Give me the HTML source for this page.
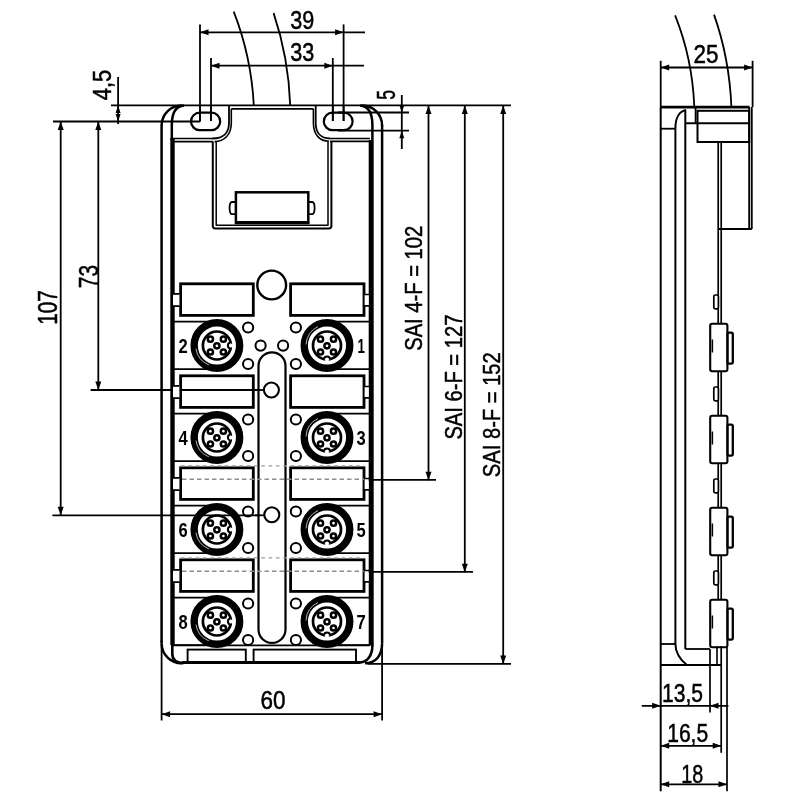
<!DOCTYPE html>
<html><head><meta charset="utf-8"><style>
html,body{margin:0;padding:0;background:#fff;}
svg{display:block;will-change:transform}
text{font-family:"Liberation Sans",sans-serif;fill:#000;}
</style></head><body>
<svg width="800" height="800" viewBox="0 0 800 800">
<rect width="800" height="800" fill="#fff"/>
<line x1="111.00" y1="105.40" x2="511.00" y2="105.40" stroke="#000" stroke-width="1.8" />
<line x1="53.00" y1="121.50" x2="200.00" y2="121.50" stroke="#000" stroke-width="1.8" />
<line x1="118.10" y1="77.00" x2="118.10" y2="124.00" stroke="#000" stroke-width="1.8" />
<polygon points="118.10,105.40 115.60,112.90 120.60,112.90" fill="#000"/>
<polygon points="118.10,121.50 115.60,114.00 120.60,114.00" fill="#000"/>
<line x1="60.70" y1="121.50" x2="60.70" y2="515.30" stroke="#000" stroke-width="1.8" />
<polygon points="60.70,121.50 57.70,130.00 63.70,130.00" fill="#000"/>
<polygon points="60.70,515.30 57.70,506.80 63.70,506.80" fill="#000"/>
<line x1="52.40" y1="515.30" x2="264.30" y2="515.30" stroke="#000" stroke-width="1.8" />
<line x1="98.30" y1="121.50" x2="98.30" y2="390.00" stroke="#000" stroke-width="1.8" />
<polygon points="98.30,121.50 95.30,130.00 101.30,130.00" fill="#000"/>
<polygon points="98.30,390.00 95.30,381.50 101.30,381.50" fill="#000"/>
<line x1="90.60" y1="390.00" x2="264.10" y2="390.00" stroke="#000" stroke-width="1.8" />
<line x1="200.00" y1="24.40" x2="200.00" y2="121.50" stroke="#000" stroke-width="1.8" />
<line x1="343.60" y1="24.40" x2="343.60" y2="121.00" stroke="#000" stroke-width="1.8" />
<line x1="200.00" y1="32.30" x2="365.00" y2="32.30" stroke="#000" stroke-width="1.8" />
<polygon points="200.00,32.30 208.50,29.30 208.50,35.30" fill="#000"/>
<polygon points="343.60,32.30 335.10,29.30 335.10,35.30" fill="#000"/>
<line x1="211.00" y1="58.00" x2="211.00" y2="121.00" stroke="#000" stroke-width="1.8" />
<line x1="332.80" y1="58.00" x2="332.80" y2="121.00" stroke="#000" stroke-width="1.8" />
<line x1="211.00" y1="65.70" x2="364.00" y2="65.70" stroke="#000" stroke-width="1.8" />
<polygon points="211.00,65.70 219.50,62.70 219.50,68.70" fill="#000"/>
<polygon points="332.80,65.70 324.30,62.70 324.30,68.70" fill="#000"/>
<line x1="338.00" y1="112.50" x2="409.00" y2="112.50" stroke="#000" stroke-width="1.8" />
<line x1="338.00" y1="130.70" x2="409.00" y2="130.70" stroke="#000" stroke-width="1.8" />
<line x1="401.80" y1="95.00" x2="401.80" y2="149.00" stroke="#000" stroke-width="1.8" />
<polygon points="401.80,112.50 399.30,105.00 404.30,105.00" fill="#000"/>
<polygon points="401.80,130.70 399.30,138.20 404.30,138.20" fill="#000"/>
<line x1="428.50" y1="105.40" x2="428.50" y2="480.30" stroke="#000" stroke-width="1.8" />
<polygon points="428.50,105.40 425.50,113.90 431.50,113.90" fill="#000"/>
<polygon points="428.50,480.30 425.50,471.80 431.50,471.80" fill="#000"/>
<line x1="366.00" y1="479.80" x2="436.00" y2="479.80" stroke="#000" stroke-width="1.8" />
<line x1="464.80" y1="105.40" x2="464.80" y2="572.20" stroke="#000" stroke-width="1.8" />
<polygon points="464.80,105.40 461.80,113.90 467.80,113.90" fill="#000"/>
<polygon points="464.80,572.20 461.80,563.70 467.80,563.70" fill="#000"/>
<line x1="366.00" y1="571.80" x2="473.00" y2="571.80" stroke="#000" stroke-width="1.8" />
<line x1="503.20" y1="105.40" x2="503.20" y2="664.00" stroke="#000" stroke-width="1.8" />
<polygon points="503.20,105.40 500.20,113.90 506.20,113.90" fill="#000"/>
<polygon points="503.20,664.00 500.20,655.50 506.20,655.50" fill="#000"/>
<line x1="367.50" y1="663.90" x2="511.00" y2="663.90" stroke="#000" stroke-width="1.8" />
<line x1="161.60" y1="640.00" x2="161.60" y2="720.50" stroke="#000" stroke-width="1.8" />
<line x1="382.10" y1="640.00" x2="382.10" y2="720.50" stroke="#000" stroke-width="1.8" />
<line x1="161.60" y1="714.20" x2="382.10" y2="714.20" stroke="#000" stroke-width="1.8" />
<polygon points="161.60,714.20 170.10,711.20 170.10,717.20" fill="#000"/>
<polygon points="382.10,714.20 373.60,711.20 373.60,717.20" fill="#000"/>
<path d="M233.7,11.7 C244,38 252,70 253.8,105.4" stroke="#000" stroke-width="1.8" fill="none" stroke-linejoin="round" />
<path d="M273.6,13.1 C282,38 289,70 290.2,105.4" stroke="#000" stroke-width="1.8" fill="none" stroke-linejoin="round" />
<path d="M161.6,125.5 A20,20 0 0 1 181.6,105.4" stroke="#000" stroke-width="2.5" fill="none" stroke-linejoin="round" />
<path d="M362.1,105.4 A20,20 0 0 1 382.1,125.5" stroke="#000" stroke-width="2.5" fill="none" stroke-linejoin="round" />
<line x1="161.60" y1="125.00" x2="161.60" y2="643.00" stroke="#000" stroke-width="2.5" />
<line x1="382.10" y1="125.00" x2="382.10" y2="643.00" stroke="#000" stroke-width="2.5" />
<path d="M161.6,643.5 A20,20 0 0 0 182,663.3" stroke="#000" stroke-width="2.5" fill="none" stroke-linejoin="round" />
<path d="M382.1,643.5 C382.1,655 376,663.3 365,663.3" stroke="#000" stroke-width="2.5" fill="none" stroke-linejoin="round" />
<path d="M171.8,140 L171.8,125 C171.8,113 175,106 184,105.4" stroke="#000" stroke-width="2.5" fill="none" stroke-linejoin="round" />
<path d="M372.4,140 L372.4,125 C372.4,113 369,106 360,105.4" stroke="#000" stroke-width="2.5" fill="none" stroke-linejoin="round" />
<line x1="172.50" y1="138.00" x2="172.50" y2="645.00" stroke="#000" stroke-width="4.4" />
<line x1="371.20" y1="140.00" x2="371.20" y2="645.50" stroke="#000" stroke-width="5.0" />
<path d="M172.3,645 L172.3,654 C172.3,660 176,663 184,663.0" stroke="#000" stroke-width="2.6" fill="none" stroke-linejoin="round" />
<path d="M372.4,645 C372.4,655 368,662.6 358.5,662.6" stroke="#000" stroke-width="2.6" fill="none" stroke-linejoin="round" />
<line x1="182.00" y1="662.60" x2="360.00" y2="662.60" stroke="#000" stroke-width="3.0" />
<line x1="173.00" y1="138.50" x2="213.00" y2="138.50" stroke="#000" stroke-width="1.7" />
<line x1="174.00" y1="141.60" x2="212.80" y2="141.60" stroke="#000" stroke-width="1.7" />
<path d="M229.0,105.4 L229.0,123 C229.0,133 223,138.5 212.5,138.5" stroke="#000" stroke-width="1.8" fill="none" stroke-linejoin="round" />
<path d="M231.3,108.8 L231.3,123 C231.3,135 224,141.6 214.5,141.6" stroke="#000" stroke-width="1.6" fill="none" stroke-linejoin="round" />
<path d="M315.7,105.4 L315.7,123 C315.7,133 321,138.5 330,138.5" stroke="#000" stroke-width="1.8" fill="none" stroke-linejoin="round" />
<path d="M313.4,108.8 L313.4,123 C313.4,135 320,141.3 329,141.3" stroke="#000" stroke-width="1.6" fill="none" stroke-linejoin="round" />
<line x1="330.00" y1="138.50" x2="370.00" y2="138.50" stroke="#000" stroke-width="1.7" />
<line x1="330.00" y1="141.40" x2="370.00" y2="141.40" stroke="#000" stroke-width="1.7" />
<line x1="231.30" y1="108.80" x2="313.40" y2="108.80" stroke="#000" stroke-width="1.7" />
<path d="M212.8,141.6 L212.8,225.8 C212.8,227.6 213.6,228.6 215.4,228.6 L328.8,228.6 C330.6,228.6 331.4,227.6 331.4,225.8 L331.4,141.4" stroke="#000" stroke-width="2.0" fill="none" stroke-linejoin="round" />
<path d="M216.2,141.6 L216.2,225.2 L328.0,225.2 L328.0,141.4" stroke="#000" stroke-width="1.5" fill="none" stroke-linejoin="round" />
<rect x="191.00" y="112.60" width="29.20" height="17.60" rx="8.8" stroke="#000" stroke-width="2.2" fill="none"/>
<rect x="323.80" y="112.60" width="28.80" height="17.60" rx="8.8" stroke="#000" stroke-width="2.2" fill="none"/>
<line x1="200.00" y1="105.40" x2="200.00" y2="121.50" stroke="#000" stroke-width="1.8" />
<line x1="211.00" y1="105.40" x2="211.00" y2="121.00" stroke="#000" stroke-width="1.8" />
<line x1="332.80" y1="105.40" x2="332.80" y2="121.00" stroke="#000" stroke-width="1.8" />
<line x1="343.60" y1="105.40" x2="343.60" y2="121.00" stroke="#000" stroke-width="1.8" />
<rect x="235.90" y="192.30" width="72.40" height="30.50" rx="0" stroke="#000" stroke-width="2.5" fill="none"/>
<line x1="235.00" y1="222.60" x2="309.20" y2="222.60" stroke="#000" stroke-width="3.2" />
<path d="M235,202 L232,202 C230,202 229.6,204 229.6,208 C229.6,212 230,214.2 232,214.2 L235,214.2" stroke="#000" stroke-width="1.8" fill="none" stroke-linejoin="round" />
<path d="M309,202 L312,202 C314,202 314.6,204 314.6,208 C314.6,212 314,214.2 312,214.2 L309,214.2" stroke="#000" stroke-width="1.8" fill="none" stroke-linejoin="round" />
<circle cx="271.70" cy="285.00" r="14.40" stroke="#000" stroke-width="2.4" fill="none"/>
<rect x="180.60" y="283.80" width="72.70" height="31.60" rx="0" stroke="#000" stroke-width="2.8" fill="none"/>
<rect x="290.60" y="283.80" width="73.40" height="31.60" rx="0" stroke="#000" stroke-width="2.8" fill="none"/>
<rect x="173.0" y="294.3" width="6.3" height="11.4" fill="#fff"/>
<path d="M172.5,293.8 L179.5,293.8 M172.5,306.2 L179.5,306.2" stroke="#000" stroke-width="1.7" fill="none" stroke-linejoin="round" />
<rect x="364.6" y="295.0" width="4.0" height="10.2" fill="#fff"/>
<path d="M364.5,294.5 L370,294.5 M364.5,305.8 L370,305.8" stroke="#000" stroke-width="1.7" fill="none" stroke-linejoin="round" />
<line x1="173.00" y1="321.70" x2="217.00" y2="321.70" stroke="#000" stroke-width="1.8" />
<line x1="173.00" y1="369.10" x2="217.00" y2="369.10" stroke="#000" stroke-width="1.8" />
<line x1="327.00" y1="321.70" x2="370.00" y2="321.70" stroke="#000" stroke-width="1.8" />
<line x1="327.00" y1="369.10" x2="370.00" y2="369.10" stroke="#000" stroke-width="1.8" />
<circle cx="248.10" cy="327.50" r="5.10" stroke="#000" stroke-width="2.0" fill="none"/>
<circle cx="248.10" cy="364.00" r="5.10" stroke="#000" stroke-width="2.0" fill="none"/>
<circle cx="295.90" cy="327.50" r="5.10" stroke="#000" stroke-width="2.0" fill="none"/>
<circle cx="295.90" cy="364.00" r="5.10" stroke="#000" stroke-width="2.0" fill="none"/>
<rect x="180.60" y="375.80" width="72.70" height="31.60" rx="0" stroke="#000" stroke-width="2.8" fill="none"/>
<rect x="290.60" y="375.80" width="73.40" height="31.60" rx="0" stroke="#000" stroke-width="2.8" fill="none"/>
<rect x="173.0" y="386.3" width="6.3" height="11.4" fill="#fff"/>
<path d="M172.5,385.8 L179.5,385.8 M172.5,398.2 L179.5,398.2" stroke="#000" stroke-width="1.7" fill="none" stroke-linejoin="round" />
<rect x="364.6" y="387.0" width="4.0" height="10.2" fill="#fff"/>
<path d="M364.5,386.5 L370,386.5 M364.5,397.8 L370,397.8" stroke="#000" stroke-width="1.7" fill="none" stroke-linejoin="round" />
<line x1="173.00" y1="413.70" x2="217.00" y2="413.70" stroke="#000" stroke-width="1.8" />
<line x1="173.00" y1="461.10" x2="217.00" y2="461.10" stroke="#000" stroke-width="1.8" />
<line x1="327.00" y1="413.70" x2="370.00" y2="413.70" stroke="#000" stroke-width="1.8" />
<line x1="327.00" y1="461.10" x2="370.00" y2="461.10" stroke="#000" stroke-width="1.8" />
<circle cx="248.10" cy="419.50" r="5.10" stroke="#000" stroke-width="2.0" fill="none"/>
<circle cx="248.10" cy="456.00" r="5.10" stroke="#000" stroke-width="2.0" fill="none"/>
<circle cx="295.90" cy="419.50" r="5.10" stroke="#000" stroke-width="2.0" fill="none"/>
<circle cx="295.90" cy="456.00" r="5.10" stroke="#000" stroke-width="2.0" fill="none"/>
<rect x="180.60" y="467.80" width="72.70" height="31.60" rx="0" stroke="#000" stroke-width="2.8" fill="none"/>
<rect x="290.60" y="467.80" width="73.40" height="31.60" rx="0" stroke="#000" stroke-width="2.8" fill="none"/>
<rect x="173.0" y="478.3" width="6.3" height="11.4" fill="#fff"/>
<path d="M172.5,477.8 L179.5,477.8 M172.5,490.2 L179.5,490.2" stroke="#000" stroke-width="1.7" fill="none" stroke-linejoin="round" />
<rect x="364.6" y="479.0" width="4.0" height="10.2" fill="#fff"/>
<path d="M364.5,478.5 L370,478.5 M364.5,489.8 L370,489.8" stroke="#000" stroke-width="1.7" fill="none" stroke-linejoin="round" />
<line x1="173.00" y1="505.70" x2="217.00" y2="505.70" stroke="#000" stroke-width="1.8" />
<line x1="173.00" y1="553.10" x2="217.00" y2="553.10" stroke="#000" stroke-width="1.8" />
<line x1="327.00" y1="505.70" x2="370.00" y2="505.70" stroke="#000" stroke-width="1.8" />
<line x1="327.00" y1="553.10" x2="370.00" y2="553.10" stroke="#000" stroke-width="1.8" />
<circle cx="248.10" cy="511.50" r="5.10" stroke="#000" stroke-width="2.0" fill="none"/>
<circle cx="248.10" cy="548.00" r="5.10" stroke="#000" stroke-width="2.0" fill="none"/>
<circle cx="295.90" cy="511.50" r="5.10" stroke="#000" stroke-width="2.0" fill="none"/>
<circle cx="295.90" cy="548.00" r="5.10" stroke="#000" stroke-width="2.0" fill="none"/>
<rect x="180.60" y="559.80" width="72.70" height="31.60" rx="0" stroke="#000" stroke-width="2.8" fill="none"/>
<rect x="290.60" y="559.80" width="73.40" height="31.60" rx="0" stroke="#000" stroke-width="2.8" fill="none"/>
<rect x="173.0" y="570.3" width="6.3" height="11.4" fill="#fff"/>
<path d="M172.5,569.8 L179.5,569.8 M172.5,582.2 L179.5,582.2" stroke="#000" stroke-width="1.7" fill="none" stroke-linejoin="round" />
<rect x="364.6" y="571.0" width="4.0" height="10.2" fill="#fff"/>
<path d="M364.5,570.5 L370,570.5 M364.5,581.8 L370,581.8" stroke="#000" stroke-width="1.7" fill="none" stroke-linejoin="round" />
<line x1="173.00" y1="597.70" x2="217.00" y2="597.70" stroke="#000" stroke-width="1.8" />
<line x1="173.00" y1="645.10" x2="217.00" y2="645.10" stroke="#000" stroke-width="1.8" />
<line x1="327.00" y1="597.70" x2="370.00" y2="597.70" stroke="#000" stroke-width="1.8" />
<line x1="327.00" y1="645.10" x2="370.00" y2="645.10" stroke="#000" stroke-width="1.8" />
<circle cx="248.10" cy="603.50" r="5.10" stroke="#000" stroke-width="2.0" fill="none"/>
<circle cx="248.10" cy="640.00" r="5.10" stroke="#000" stroke-width="2.0" fill="none"/>
<circle cx="295.90" cy="603.50" r="5.10" stroke="#000" stroke-width="2.0" fill="none"/>
<circle cx="295.90" cy="640.00" r="5.10" stroke="#000" stroke-width="2.0" fill="none"/>
<circle cx="260.60" cy="345.60" r="5.10" stroke="#000" stroke-width="2.0" fill="none"/>
<circle cx="283.10" cy="345.60" r="5.10" stroke="#000" stroke-width="2.0" fill="none"/>
<rect x="258.5" y="352.3" width="27.0" height="290.6" rx="13.5" stroke="#000" stroke-width="2.2" fill="#fff"/>
<circle cx="271.40" cy="390.00" r="7.50" stroke="#000" stroke-width="2.1" fill="none"/>
<circle cx="271.80" cy="514.80" r="7.50" stroke="#000" stroke-width="2.1" fill="none"/>
<line x1="255.00" y1="390.00" x2="263.80" y2="390.00" stroke="#000" stroke-width="1.8" />
<line x1="255.00" y1="515.30" x2="264.30" y2="515.30" stroke="#000" stroke-width="1.8" />
<circle cx="216.9" cy="345.50" r="22.75" stroke="#000" stroke-width="7.4" fill="none"/>
<circle cx="216.90" cy="345.50" r="14.00" stroke="#000" stroke-width="2.7" fill="none"/>
<path d="M230.90,342.50 A3.0,3.0 0 0 0 230.90,348.50" stroke="#000" stroke-width="2" fill="#fff"/>
<line x1="231.50" y1="343.70" x2="231.50" y2="347.30" stroke="#fff" stroke-width="2.6"/>
<circle cx="210.40" cy="339.20" r="2.60" stroke="#000" stroke-width="2.5" fill="none"/>
<circle cx="223.40" cy="339.20" r="2.60" stroke="#000" stroke-width="2.5" fill="none"/>
<circle cx="210.40" cy="352.00" r="2.60" stroke="#000" stroke-width="2.5" fill="none"/>
<circle cx="223.40" cy="352.00" r="2.60" stroke="#000" stroke-width="2.5" fill="none"/>
<circle cx="216.90" cy="345.80" r="2.60" stroke="#000" stroke-width="2.5" fill="none"/>
<path d="M195.90,348.50 A21.0,21.0 0 0 0 208.90,364.90" stroke="#fff" stroke-width="0.7" fill="none"/>
<circle cx="327.0" cy="345.50" r="22.75" stroke="#000" stroke-width="7.4" fill="none"/>
<circle cx="327.00" cy="345.50" r="14.00" stroke="#000" stroke-width="2.7" fill="none"/>
<path d="M324.00,359.50 A3.0,3.0 0 0 1 330.00,359.50" stroke="#000" stroke-width="2" fill="#fff"/>
<line x1="325.20" y1="360.10" x2="328.80" y2="360.10" stroke="#fff" stroke-width="2.6"/>
<circle cx="320.50" cy="339.20" r="2.60" stroke="#000" stroke-width="2.5" fill="none"/>
<circle cx="333.50" cy="339.20" r="2.60" stroke="#000" stroke-width="2.5" fill="none"/>
<circle cx="320.50" cy="352.00" r="2.60" stroke="#000" stroke-width="2.5" fill="none"/>
<circle cx="333.50" cy="352.00" r="2.60" stroke="#000" stroke-width="2.5" fill="none"/>
<circle cx="327.00" cy="345.80" r="2.60" stroke="#000" stroke-width="2.5" fill="none"/>
<path d="M306.00,344.50 A21.0,21.0 0 0 1 318.00,326.50" stroke="#fff" stroke-width="0.7" fill="none"/>
<circle cx="216.9" cy="437.50" r="22.75" stroke="#000" stroke-width="7.4" fill="none"/>
<circle cx="216.90" cy="437.50" r="14.00" stroke="#000" stroke-width="2.7" fill="none"/>
<path d="M230.90,434.50 A3.0,3.0 0 0 0 230.90,440.50" stroke="#000" stroke-width="2" fill="#fff"/>
<line x1="231.50" y1="435.70" x2="231.50" y2="439.30" stroke="#fff" stroke-width="2.6"/>
<circle cx="210.40" cy="431.20" r="2.60" stroke="#000" stroke-width="2.5" fill="none"/>
<circle cx="223.40" cy="431.20" r="2.60" stroke="#000" stroke-width="2.5" fill="none"/>
<circle cx="210.40" cy="444.00" r="2.60" stroke="#000" stroke-width="2.5" fill="none"/>
<circle cx="223.40" cy="444.00" r="2.60" stroke="#000" stroke-width="2.5" fill="none"/>
<circle cx="216.90" cy="437.80" r="2.60" stroke="#000" stroke-width="2.5" fill="none"/>
<path d="M195.90,440.50 A21.0,21.0 0 0 0 208.90,456.90" stroke="#fff" stroke-width="0.7" fill="none"/>
<circle cx="327.0" cy="437.50" r="22.75" stroke="#000" stroke-width="7.4" fill="none"/>
<circle cx="327.00" cy="437.50" r="14.00" stroke="#000" stroke-width="2.7" fill="none"/>
<path d="M324.00,451.50 A3.0,3.0 0 0 1 330.00,451.50" stroke="#000" stroke-width="2" fill="#fff"/>
<line x1="325.20" y1="452.10" x2="328.80" y2="452.10" stroke="#fff" stroke-width="2.6"/>
<circle cx="320.50" cy="431.20" r="2.60" stroke="#000" stroke-width="2.5" fill="none"/>
<circle cx="333.50" cy="431.20" r="2.60" stroke="#000" stroke-width="2.5" fill="none"/>
<circle cx="320.50" cy="444.00" r="2.60" stroke="#000" stroke-width="2.5" fill="none"/>
<circle cx="333.50" cy="444.00" r="2.60" stroke="#000" stroke-width="2.5" fill="none"/>
<circle cx="327.00" cy="437.80" r="2.60" stroke="#000" stroke-width="2.5" fill="none"/>
<path d="M306.00,436.50 A21.0,21.0 0 0 1 318.00,418.50" stroke="#fff" stroke-width="0.7" fill="none"/>
<circle cx="216.9" cy="529.50" r="22.75" stroke="#000" stroke-width="7.4" fill="none"/>
<circle cx="216.90" cy="529.50" r="14.00" stroke="#000" stroke-width="2.7" fill="none"/>
<path d="M230.90,526.50 A3.0,3.0 0 0 0 230.90,532.50" stroke="#000" stroke-width="2" fill="#fff"/>
<line x1="231.50" y1="527.70" x2="231.50" y2="531.30" stroke="#fff" stroke-width="2.6"/>
<circle cx="210.40" cy="523.20" r="2.60" stroke="#000" stroke-width="2.5" fill="none"/>
<circle cx="223.40" cy="523.20" r="2.60" stroke="#000" stroke-width="2.5" fill="none"/>
<circle cx="210.40" cy="536.00" r="2.60" stroke="#000" stroke-width="2.5" fill="none"/>
<circle cx="223.40" cy="536.00" r="2.60" stroke="#000" stroke-width="2.5" fill="none"/>
<circle cx="216.90" cy="529.80" r="2.60" stroke="#000" stroke-width="2.5" fill="none"/>
<path d="M195.90,532.50 A21.0,21.0 0 0 0 208.90,548.90" stroke="#fff" stroke-width="0.7" fill="none"/>
<circle cx="327.0" cy="529.50" r="22.75" stroke="#000" stroke-width="7.4" fill="none"/>
<circle cx="327.00" cy="529.50" r="14.00" stroke="#000" stroke-width="2.7" fill="none"/>
<path d="M324.00,543.50 A3.0,3.0 0 0 1 330.00,543.50" stroke="#000" stroke-width="2" fill="#fff"/>
<line x1="325.20" y1="544.10" x2="328.80" y2="544.10" stroke="#fff" stroke-width="2.6"/>
<circle cx="320.50" cy="523.20" r="2.60" stroke="#000" stroke-width="2.5" fill="none"/>
<circle cx="333.50" cy="523.20" r="2.60" stroke="#000" stroke-width="2.5" fill="none"/>
<circle cx="320.50" cy="536.00" r="2.60" stroke="#000" stroke-width="2.5" fill="none"/>
<circle cx="333.50" cy="536.00" r="2.60" stroke="#000" stroke-width="2.5" fill="none"/>
<circle cx="327.00" cy="529.80" r="2.60" stroke="#000" stroke-width="2.5" fill="none"/>
<path d="M306.00,528.50 A21.0,21.0 0 0 1 318.00,510.50" stroke="#fff" stroke-width="0.7" fill="none"/>
<circle cx="216.9" cy="621.50" r="22.75" stroke="#000" stroke-width="7.4" fill="none"/>
<circle cx="216.90" cy="621.50" r="14.00" stroke="#000" stroke-width="2.7" fill="none"/>
<path d="M230.90,618.50 A3.0,3.0 0 0 0 230.90,624.50" stroke="#000" stroke-width="2" fill="#fff"/>
<line x1="231.50" y1="619.70" x2="231.50" y2="623.30" stroke="#fff" stroke-width="2.6"/>
<circle cx="210.40" cy="615.20" r="2.60" stroke="#000" stroke-width="2.5" fill="none"/>
<circle cx="223.40" cy="615.20" r="2.60" stroke="#000" stroke-width="2.5" fill="none"/>
<circle cx="210.40" cy="628.00" r="2.60" stroke="#000" stroke-width="2.5" fill="none"/>
<circle cx="223.40" cy="628.00" r="2.60" stroke="#000" stroke-width="2.5" fill="none"/>
<circle cx="216.90" cy="621.80" r="2.60" stroke="#000" stroke-width="2.5" fill="none"/>
<path d="M195.90,624.50 A21.0,21.0 0 0 0 208.90,640.90" stroke="#fff" stroke-width="0.7" fill="none"/>
<circle cx="327.0" cy="621.50" r="22.75" stroke="#000" stroke-width="7.4" fill="none"/>
<circle cx="327.00" cy="621.50" r="14.00" stroke="#000" stroke-width="2.7" fill="none"/>
<path d="M324.00,635.50 A3.0,3.0 0 0 1 330.00,635.50" stroke="#000" stroke-width="2" fill="#fff"/>
<line x1="325.20" y1="636.10" x2="328.80" y2="636.10" stroke="#fff" stroke-width="2.6"/>
<circle cx="320.50" cy="615.20" r="2.60" stroke="#000" stroke-width="2.5" fill="none"/>
<circle cx="333.50" cy="615.20" r="2.60" stroke="#000" stroke-width="2.5" fill="none"/>
<circle cx="320.50" cy="628.00" r="2.60" stroke="#000" stroke-width="2.5" fill="none"/>
<circle cx="333.50" cy="628.00" r="2.60" stroke="#000" stroke-width="2.5" fill="none"/>
<circle cx="327.00" cy="621.80" r="2.60" stroke="#000" stroke-width="2.5" fill="none"/>
<path d="M306.00,620.50 A21.0,21.0 0 0 1 318.00,602.50" stroke="#fff" stroke-width="0.7" fill="none"/>
<line x1="181" y1="465.8" x2="364" y2="465.8" stroke="#9a9a9a" stroke-width="1.3" stroke-dasharray="3.6,3.7"/>
<line x1="182" y1="479.2" x2="364" y2="479.2" stroke="#8c8c8c" stroke-width="1.6" stroke-dasharray="4.5,3"/>
<line x1="181" y1="557.8" x2="364" y2="557.8" stroke="#9a9a9a" stroke-width="1.3" stroke-dasharray="3.6,3.7"/>
<line x1="182" y1="571.2" x2="364" y2="571.2" stroke="#8c8c8c" stroke-width="1.6" stroke-dasharray="4.5,3"/>
<line x1="173.00" y1="645.30" x2="370.00" y2="645.30" stroke="#000" stroke-width="1.8" />
<rect x="187.60" y="649.60" width="58.20" height="13.00" rx="0" stroke="#000" stroke-width="1.9" fill="none"/>
<rect x="253.60" y="649.60" width="102.40" height="13.00" rx="0" stroke="#000" stroke-width="1.9" fill="none"/>
<text x="178.50" y="353.30" font-size="20.5" font-weight="bold" textLength="9.2" lengthAdjust="spacingAndGlyphs">2</text>
<text x="357.60" y="353.30" font-size="20.5" font-weight="bold" textLength="7.4" lengthAdjust="spacingAndGlyphs">1</text>
<text x="178.50" y="445.30" font-size="20.5" font-weight="bold" textLength="9.2" lengthAdjust="spacingAndGlyphs">4</text>
<text x="356.60" y="445.30" font-size="20.5" font-weight="bold" textLength="9.2" lengthAdjust="spacingAndGlyphs">3</text>
<text x="178.50" y="537.30" font-size="20.5" font-weight="bold" textLength="9.2" lengthAdjust="spacingAndGlyphs">6</text>
<text x="356.60" y="537.30" font-size="20.5" font-weight="bold" textLength="9.2" lengthAdjust="spacingAndGlyphs">5</text>
<text x="178.50" y="629.30" font-size="20.5" font-weight="bold" textLength="9.2" lengthAdjust="spacingAndGlyphs">8</text>
<text x="356.60" y="629.30" font-size="20.5" font-weight="bold" textLength="9.2" lengthAdjust="spacingAndGlyphs">7</text>
<text x="290.20" y="29.30" font-size="25.5" font-weight="normal" stroke="#000" stroke-width="0.5" textLength="24" lengthAdjust="spacingAndGlyphs">39</text>
<text x="290.20" y="61.30" font-size="25.5" font-weight="normal" stroke="#000" stroke-width="0.5" textLength="24" lengthAdjust="spacingAndGlyphs">33</text>
<text x="260.60" y="709.40" font-size="25.5" font-weight="normal" stroke="#000" stroke-width="0.5" textLength="25" lengthAdjust="spacingAndGlyphs">60</text>
<text transform="translate(97.50,288.20) rotate(-90)" x="0" y="0" font-size="27.5" font-weight="normal" stroke="#000" stroke-width="0.5" textLength="23.2" lengthAdjust="spacingAndGlyphs">73</text>
<text transform="translate(57.30,324.80) rotate(-90)" x="0" y="0" font-size="27.5" font-weight="normal" stroke="#000" stroke-width="0.5" textLength="34.5" lengthAdjust="spacingAndGlyphs">107</text>
<text transform="translate(110.90,100.20) rotate(-90)" x="0" y="0" font-size="26" font-weight="normal" stroke="#000" stroke-width="0.5" textLength="30.5" lengthAdjust="spacingAndGlyphs">4,5</text>
<text transform="translate(394.80,99.80) rotate(-90)" x="0" y="0" font-size="25" font-weight="normal" stroke="#000" stroke-width="0.5" textLength="9.8" lengthAdjust="spacingAndGlyphs">5</text>
<text transform="translate(422.00,350.80) rotate(-90)" x="0" y="0" font-size="24.8" font-weight="normal" stroke="#000" stroke-width="0.5" textLength="125" lengthAdjust="spacingAndGlyphs">SAI 4-F = 102</text>
<text transform="translate(461.50,439.60) rotate(-90)" x="0" y="0" font-size="24.8" font-weight="normal" stroke="#000" stroke-width="0.5" textLength="125" lengthAdjust="spacingAndGlyphs">SAI 6-F = 127</text>
<text transform="translate(500.20,477.20) rotate(-90)" x="0" y="0" font-size="24.8" font-weight="normal" stroke="#000" stroke-width="0.5" textLength="125" lengthAdjust="spacingAndGlyphs">SAI 8-F = 152</text>
<path d="M675.1,15.3 C685,40 693,72 694.3,107" stroke="#000" stroke-width="1.8" fill="none" stroke-linejoin="round" />
<path d="M714,14.6 C723,40 730,72 731.4,107" stroke="#000" stroke-width="1.8" fill="none" stroke-linejoin="round" />
<line x1="660.70" y1="60.80" x2="660.70" y2="107.00" stroke="#000" stroke-width="1.8" />
<line x1="752.60" y1="60.80" x2="752.60" y2="107.00" stroke="#000" stroke-width="1.8" />
<line x1="660.70" y1="67.50" x2="752.60" y2="67.50" stroke="#000" stroke-width="1.8" />
<polygon points="660.70,67.50 669.20,64.50 669.20,70.50" fill="#000"/>
<polygon points="752.60,67.50 744.10,64.50 744.10,70.50" fill="#000"/>
<text x="693.60" y="63.20" font-size="25.5" font-weight="normal" stroke="#000" stroke-width="0.5" textLength="25" lengthAdjust="spacingAndGlyphs">25</text>
<line x1="660.70" y1="107.00" x2="660.70" y2="791.30" stroke="#000" stroke-width="2.0" />
<line x1="660.70" y1="107.10" x2="749.50" y2="107.10" stroke="#000" stroke-width="2.6" />
<line x1="660.70" y1="128.70" x2="675.40" y2="128.70" stroke="#000" stroke-width="1.8" />
<path d="M675.4,128.7 L675.4,644 C675.4,652 680,660 686.5,664.5" stroke="#000" stroke-width="2.0" fill="none" stroke-linejoin="round" />
<path d="M675.4,128.7 C675.4,117 680,111 686,110" stroke="#000" stroke-width="2.0" fill="none" stroke-linejoin="round" />
<line x1="685.30" y1="110.00" x2="685.30" y2="649.00" stroke="#000" stroke-width="2.0" />
<line x1="685.30" y1="649.00" x2="710.00" y2="649.00" stroke="#000" stroke-width="1.8" />
<line x1="660.70" y1="644.00" x2="675.40" y2="644.00" stroke="#000" stroke-width="1.8" />
<line x1="660.70" y1="665.00" x2="721.00" y2="665.00" stroke="#000" stroke-width="1.8" />
<line x1="695.60" y1="107.00" x2="695.60" y2="123.20" stroke="#000" stroke-width="1.8" />
<rect x="697.50" y="110.80" width="51.70" height="31.20" rx="0" stroke="#000" stroke-width="2.0" fill="none"/>
<line x1="685.30" y1="123.20" x2="749.20" y2="123.20" stroke="#000" stroke-width="2.0" />
<line x1="749.20" y1="107.00" x2="749.20" y2="229.00" stroke="#000" stroke-width="1.9" />
<line x1="751.80" y1="107.00" x2="751.80" y2="229.00" stroke="#000" stroke-width="1.8" />
<line x1="719.00" y1="229.00" x2="751.80" y2="229.00" stroke="#000" stroke-width="1.9" />
<line x1="718.20" y1="142.00" x2="718.20" y2="323.80" stroke="#000" stroke-width="1.7" />
<line x1="721.20" y1="142.00" x2="721.20" y2="323.80" stroke="#000" stroke-width="1.7" />
<rect x="713.8" y="295" width="4.6" height="13.8" rx="1.5" stroke="#000" stroke-width="1.7" fill="#fff"/>
<rect x="710.2" y="323.8" width="17.2" height="47.4" rx="2" stroke="#000" stroke-width="2.1" fill="#fff"/>
<rect x="727.6" y="332.6" width="5.2" height="31" rx="1.5" stroke="#000" stroke-width="2.3" fill="#fff"/>
<line x1="712.40" y1="339.50" x2="712.40" y2="352.50" stroke="#000" stroke-width="1.5" />
<line x1="718.20" y1="371.20" x2="718.20" y2="415.00" stroke="#000" stroke-width="1.7" />
<line x1="721.20" y1="371.20" x2="721.20" y2="415.00" stroke="#000" stroke-width="1.7" />
<rect x="713.8" y="387" width="4.6" height="13.8" rx="1.5" stroke="#000" stroke-width="1.7" fill="#fff"/>
<rect x="710.2" y="415.8" width="17.2" height="47.4" rx="2" stroke="#000" stroke-width="2.1" fill="#fff"/>
<rect x="727.6" y="424.6" width="5.2" height="31" rx="1.5" stroke="#000" stroke-width="2.3" fill="#fff"/>
<line x1="712.40" y1="431.50" x2="712.40" y2="444.50" stroke="#000" stroke-width="1.5" />
<line x1="718.20" y1="463.20" x2="718.20" y2="507.00" stroke="#000" stroke-width="1.7" />
<line x1="721.20" y1="463.20" x2="721.20" y2="507.00" stroke="#000" stroke-width="1.7" />
<rect x="713.8" y="479" width="4.6" height="13.8" rx="1.5" stroke="#000" stroke-width="1.7" fill="#fff"/>
<rect x="710.2" y="507.8" width="17.2" height="47.4" rx="2" stroke="#000" stroke-width="2.1" fill="#fff"/>
<rect x="727.6" y="516.6" width="5.2" height="31" rx="1.5" stroke="#000" stroke-width="2.3" fill="#fff"/>
<line x1="712.40" y1="523.50" x2="712.40" y2="536.50" stroke="#000" stroke-width="1.5" />
<line x1="718.20" y1="555.20" x2="718.20" y2="599.00" stroke="#000" stroke-width="1.7" />
<line x1="721.20" y1="555.20" x2="721.20" y2="599.00" stroke="#000" stroke-width="1.7" />
<rect x="713.8" y="571" width="4.6" height="13.8" rx="1.5" stroke="#000" stroke-width="1.7" fill="#fff"/>
<rect x="710.2" y="599.8" width="17.2" height="47.4" rx="2" stroke="#000" stroke-width="2.1" fill="#fff"/>
<rect x="727.6" y="608.6" width="5.2" height="31" rx="1.5" stroke="#000" stroke-width="2.3" fill="#fff"/>
<line x1="712.40" y1="615.50" x2="712.40" y2="628.50" stroke="#000" stroke-width="1.5" />
<line x1="710.00" y1="649.00" x2="710.00" y2="712.50" stroke="#000" stroke-width="1.7" />
<line x1="717.00" y1="646.00" x2="717.00" y2="665.00" stroke="#000" stroke-width="1.6" />
<line x1="721.20" y1="646.00" x2="721.20" y2="752.80" stroke="#000" stroke-width="1.7" />
<line x1="727.00" y1="646.00" x2="727.00" y2="791.30" stroke="#000" stroke-width="1.7" />
<line x1="641.80" y1="705.80" x2="728.40" y2="705.80" stroke="#000" stroke-width="1.8" />
<polygon points="660.70,705.80 652.20,702.80 652.20,708.80" fill="#000"/>
<polygon points="710.00,705.80 718.50,702.80 718.50,708.80" fill="#000"/>
<line x1="660.70" y1="745.80" x2="721.20" y2="745.80" stroke="#000" stroke-width="1.8" />
<polygon points="660.70,745.80 669.20,742.80 669.20,748.80" fill="#000"/>
<polygon points="721.20,745.80 712.70,742.80 712.70,748.80" fill="#000"/>
<line x1="660.70" y1="784.30" x2="727.00" y2="784.30" stroke="#000" stroke-width="1.8" />
<polygon points="660.70,784.30 669.20,781.30 669.20,787.30" fill="#000"/>
<polygon points="727.00,784.30 718.50,781.30 718.50,787.30" fill="#000"/>
<text x="662.00" y="701.80" font-size="25.5" font-weight="normal" stroke="#000" stroke-width="0.5" textLength="41" lengthAdjust="spacingAndGlyphs">13,5</text>
<text x="667.20" y="742.00" font-size="25.5" font-weight="normal" stroke="#000" stroke-width="0.5" textLength="41" lengthAdjust="spacingAndGlyphs">16,5</text>
<text x="681.20" y="782.50" font-size="25.5" font-weight="normal" stroke="#000" stroke-width="0.5" textLength="22" lengthAdjust="spacingAndGlyphs">18</text>
</svg></body></html>
